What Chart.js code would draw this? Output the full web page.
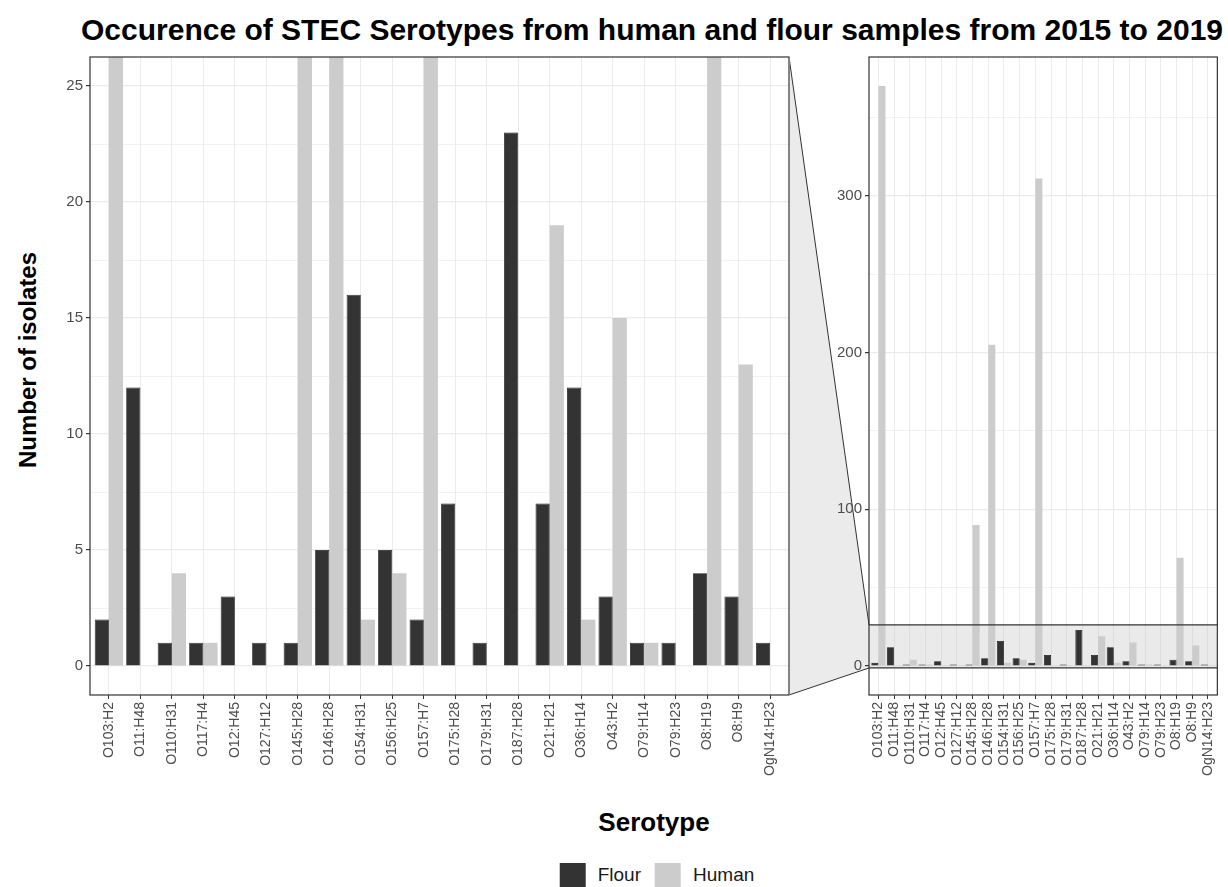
<!DOCTYPE html>
<html>
<head>
<meta charset="utf-8">
<script src="https://cdn.jsdelivr.net/npm/chart.js@4.4.1/dist/chart.umd.min.js"></script>
<style>
  body { margin: 0; background: #fff; width: 1228px; height: 887px; position: relative; overflow: hidden;
         font-family: "Liberation Sans", Arial, sans-serif; }
  canvas { position: absolute; top: 0; }
  #leftChart { left: 0; }
  #rightChart { left: 790px; }
  .txt { position: absolute; white-space: nowrap; color: #000; }
  #title { left: 652px; top: 30px; font-size: 30px; font-weight: bold; transform: translate(-50%, -50%); }
  #ytitle { left: 28px; top: 360px; font-size: 24px; font-weight: bold; transform: translate(-50%, -50%) rotate(-90deg); }
  #xtitle { left: 654px; top: 822px; font-size: 26px; font-weight: bold; transform: translate(-50%, -50%); }
  #legend { position: absolute; left: 657px; top: 875px; transform: translate(-50%, -50%); display: flex; align-items: center; }
  #legend .key { width: 26px; height: 24px; margin-right: 12px; }
  #legend .lab { font-size: 19px; color: #1a1a1a; margin-right: 14px; }
  #legend .lab:last-child { margin-right: 0; }
</style>
</head>
<body>
<div id="title" class="txt">Occurence of STEC Serotypes from human and flour samples from 2015 to 2019</div>
<div id="ytitle" class="txt">Number of isolates</div>
<div id="xtitle" class="txt">Serotype</div>
<div id="legend"></div>
<canvas id="leftChart" width="792" height="800"></canvas>
<canvas id="rightChart" width="438" height="800"></canvas>
<script>
// data
const serotypes = ['O103:H2', 'O11:H48', 'O110:H31', 'O117:H4', 'O12:H45', 'O127:H12', 'O145:H28', 'O146:H28',
  'O154:H31', 'O156:H25', 'O157:H7', 'O175:H28', 'O179:H31', 'O187:H28', 'O21:H21', 'O36:H14', 'O43:H2',
  'O79:H14', 'O79:H23', 'O8:H19', 'O8:H9', 'OgN14:H23'];
const flour = [2, 12, 1, 1, 3, 1, 1, 5, 16, 5, 2, 7, 1, 23, 7, 12, 3, 1, 1, 4, 3, 1];
const human = [370, 0, 4, 1, 0, 0, 90, 205, 2, 4, 311, 0, 0, 0, 19, 2, 15, 1, 0, 69, 13, 0];
const seriesNames = ['Flour', 'Human'];
const seriesColors = ['#333333', '#cccccc'];
const zoomTicks = [0, 5, 10, 15, 20, 25];
const fullTicks = [0, 100, 200, 300];

// ggplot style expansion
const zoomMin = -1.25, zoomMax = 26.25;
const fullMax = Math.max(...human, ...flour);
const fullMin = -0.05 * fullMax, fullTop = fullMax * 1.05;

const tickCol = '#4d4d4d';
const gridCol = '#ebebeb';

// legend
const legend = document.getElementById('legend');
seriesNames.forEach((n, i) => {
  const k = document.createElement('div');
  k.className = 'key';
  k.style.background = seriesColors[i];
  const l = document.createElement('div');
  l.className = 'lab';
  l.textContent = n;
  legend.appendChild(k);
  legend.appendChild(l);
});

function withMinors(major) {
  const step = major[1] - major[0];
  const out = [];
  major.forEach(v => { out.push(v); out.push(v + step / 2); });
  return out;
}

function makeDatasets() {
  return [
    { label: seriesNames[0], data: flour.map((v, i) => ({ x: i, y: v })), backgroundColor: seriesColors[0],
      borderColor: '#1a1a1a', borderWidth: 0.8, categoryPercentage: 0.9, barPercentage: 1.0 },
    { label: seriesNames[1], data: human.map((v, i) => ({ x: i, y: v })), backgroundColor: seriesColors[1],
      borderWidth: 0, categoryPercentage: 0.9, barPercentage: 1.0 }
  ];
}

function xScale() {
  return {
    type: 'linear', bounds: 'data', offset: false,
    min: -0.6, max: serotypes.length - 1 + 0.6,
    afterBuildTicks: s => { s.ticks = serotypes.map((c, i) => ({ value: i })); },
    afterFit: s => { s.height = 105; },
    grid: { offset: false, color: gridCol, lineWidth: 1, tickColor: '#333', tickLength: 4 },
    border: { display: false },
    ticks: { autoSkip: false, maxRotation: 90, minRotation: 90, padding: 3, color: tickCol,
             font: { family: 'Liberation Sans', size: 14 },
             callback: v => serotypes[v] }
  };
}

function yScale(min, max, major, width) {
  const all = withMinors(major).filter(v => v <= max);
  const isMajor = ctx => ctx.tick && major.includes(ctx.tick.value);
  return {
    type: 'linear', bounds: 'data', min: min, max: max,
    afterBuildTicks: s => { s.ticks = all.map(v => ({ value: v })); },
    afterFit: s => { s.width = width; },
    grid: { color: gridCol, lineWidth: ctx => isMajor(ctx) ? 1.2 : 0.7,
            tickColor: ctx => isMajor(ctx) ? '#333' : 'rgba(0,0,0,0)', tickLength: 4 },
    border: { display: false },
    ticks: { color: tickCol, padding: 3, font: { family: 'Liberation Sans', size: 15 },
             callback: v => major.includes(v) ? v : '' }
  };
}

const panelBorder = {
  id: 'panelBorder',
  afterDraw(chart) {
    const a = chart.chartArea, c = chart.ctx;
    c.save();
    c.strokeStyle = '#333';
    c.lineWidth = 1.2;
    c.strokeRect(a.left, a.top, a.right - a.left, a.bottom - a.top);
    c.restore();
  }
};

const baseOpts = {
  responsive: false, devicePixelRatio: 1, animation: false,
  plugins: { legend: { display: false }, tooltip: { enabled: false } }
};

const leftChart = new Chart(document.getElementById('leftChart').getContext('2d'), {
  type: 'bar',
  data: { datasets: makeDatasets() },
  options: Object.assign({}, baseOpts, {
    layout: { padding: { top: 57, right: 3, left: 0, bottom: 0 } },
    scales: { x: xScale(), y: yScale(zoomMin, zoomMax, zoomTicks, 90) }
  }),
  plugins: [panelBorder]
});

const rightLeftOffset = 790;

const zoomArea = {
  id: 'zoomArea',
  beforeDraw(chart) {
    // connector between the zoomed panel and the zoom band
    const c = chart.ctx, y = chart.scales.y, a = chart.chartArea;
    const la = leftChart.chartArea;
    const lx = la.right - rightLeftOffset;
    c.save();
    c.beginPath();
    c.moveTo(lx, la.top);
    c.lineTo(a.left, y.getPixelForValue(zoomMax));
    c.lineTo(a.left, y.getPixelForValue(zoomMin));
    c.lineTo(lx, la.bottom);
    c.closePath();
    c.fillStyle = '#ebebeb';
    c.fill();
    c.strokeStyle = '#333';
    c.lineWidth = 1;
    c.beginPath();
    c.moveTo(lx, la.top);
    c.lineTo(a.left, y.getPixelForValue(zoomMax));
    c.moveTo(lx, la.bottom);
    c.lineTo(a.left, y.getPixelForValue(zoomMin));
    c.stroke();
    c.restore();
  },
  beforeDatasetsDraw(chart) {
    const c = chart.ctx, y = chart.scales.y, a = chart.chartArea;
    const t = y.getPixelForValue(zoomMax), b = y.getPixelForValue(zoomMin);
    c.save();
    c.fillStyle = 'rgba(200,200,200,0.38)';
    c.fillRect(a.left, t, a.right - a.left, b - t);
    c.restore();
  },
  afterDatasetsDraw(chart) {
    const c = chart.ctx, y = chart.scales.y, a = chart.chartArea;
    c.save();
    c.strokeStyle = '#333';
    c.lineWidth = 1.2;
    c.beginPath();
    [zoomMax, zoomMin].forEach(v => {
      const p = y.getPixelForValue(v);
      c.moveTo(a.left, p);
      c.lineTo(a.right, p);
    });
    c.stroke();
    c.restore();
  }
};

const rightChart = new Chart(document.getElementById('rightChart').getContext('2d'), {
  type: 'bar',
  data: { datasets: makeDatasets() },
  options: Object.assign({}, baseOpts, {
    layout: { padding: { top: 57, right: 10, left: 0, bottom: 0 } },
    scales: { x: xScale(), y: yScale(fullMin, fullTop, fullTicks, 79) }
  }),
  plugins: [zoomArea, panelBorder]
});
</script>
</body>
</html>
